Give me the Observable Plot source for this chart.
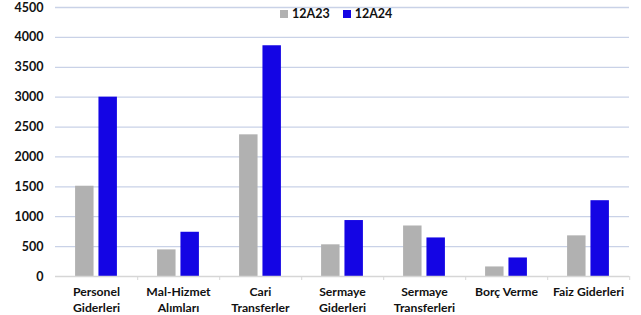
<!DOCTYPE html>
<html>
<head>
<meta charset="utf-8">
<script src="https://cdn.jsdelivr.net/npm/d3@7"></script>
<script src="https://cdn.jsdelivr.net/npm/@observablehq/plot@0.6"></script>
<style>
  html, body { margin: 0; padding: 0; background: #fff; }
  #wrap { position: relative; width: 641px; height: 315px; font-family: Lato, "DejaVu Sans", sans-serif; }
  #legend { position: absolute; top: 6px; left: 280px; display: flex; align-items: center; font: bold 12.5px Lato, sans-serif; color: #111; }
  #legend .sw { display: inline-block; width: 8px; height: 8px; margin-right: 4px; }
  #legend .item { display: flex; align-items: center; margin-right: 13px; }
</style>
</head>
<body>
<div id="wrap"></div>
<script>
const categories = ["Personel Giderleri", "Mal-Hizmet Alımları", "Cari Transferler", "Sermaye Giderleri", "Sermaye Transferleri", "Borç Verme", "Faiz Giderleri"];
const tickLabels = ["Personel\nGiderleri", "Mal-Hizmet\nAlımları", "Cari\nTransferler", "Sermaye\nGiderleri", "Sermaye\nTransferleri", "Borç Verme", "Faiz Giderleri"];
const series = ["12A23", "12A24"];
const values12A23 = [1510, 445, 2370, 530, 845, 160, 680];
const values12A24 = [3000, 740, 3860, 936, 645, 310, 1268];
const yTicks = [0, 500, 1000, 1500, 2000, 2500, 3000, 3500, 4000, 4500];
const colors = ["#b1b1b1", "#1405e4"];

const data = [];
categories.forEach((c, i) => {
  data.push({cat: c, series: series[0], value: values12A23[i]});
  data.push({cat: c, series: series[1], value: values12A24[i]});
});
const labelOf = new Map(categories.map((c, i) => [c, tickLabels[i]]));

const W = 641, H = 315, mL = 53, mR = 11, mT = 7, mB = 39;
const step = (W - mL - mR) / categories.length;

const chart = Plot.plot({
  width: W, height: H,
  marginLeft: mL, marginRight: mR, marginTop: mT, marginBottom: mB,
  style: {fontFamily: "Lato, sans-serif", fontSize: "12.5px", fontWeight: "bold", color: "#111", background: "#fff"},
  fx: {domain: categories, padding: 0, label: null},
  x: {domain: series, paddingInner: 0.21, paddingOuter: 0.86, round: false, axis: null},
  y: {domain: [0, 4500], label: null},
  color: {domain: series, range: colors},
  marks: [
    Plot.ruleY(yTicks.filter(d => d > 0), {stroke: "#c9d2e7", strokeWidth: 1.3}),
    Plot.axisY({ticks: yTicks, tickFormat: d => String(d), tickSize: 0, tickPadding: 12, label: null, fontWeight: "bold", fontSize: 12.5}),
    Plot.barY(data, {fx: "cat", x: "series", y: "value", fill: "series"}),
    Plot.ruleY([0], {stroke: "#d6d6d6", strokeWidth: 1.3}),
    Plot.axisFx({anchor: "bottom", tickSize: 0, tickPadding: 9, lineHeight: 1.25, label: null, tickFormat: d => labelOf.get(d), fontWeight: "bold", fontSize: 12.2}),
    Plot.axisFx({anchor: "bottom", tickSize: 4, dx: step / 2, stroke: "#d6d6d6", tickFormat: () => "", label: null})
  ]
});

document.getElementById("wrap").appendChild(chart);
const legend = document.createElement("div");
legend.id = "legend";
series.forEach((s, i) => {
  const item = document.createElement("span");
  item.className = "item";
  const sw = document.createElement("span");
  sw.className = "sw";
  sw.style.background = colors[i];
  item.appendChild(sw);
  item.appendChild(document.createTextNode(s));
  legend.appendChild(item);
});
document.getElementById("wrap").appendChild(legend);
</script>
</body>
</html>
